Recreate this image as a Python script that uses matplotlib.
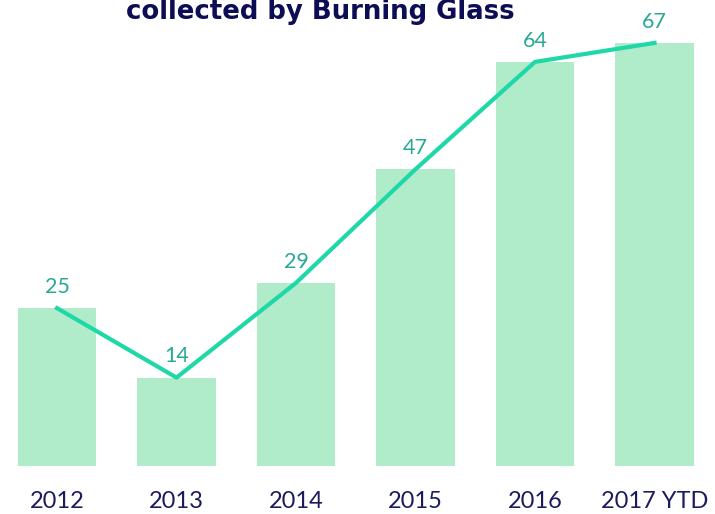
import numpy as np
import matplotlib
matplotlib.use("Agg")
import matplotlib.pyplot as plt

years = ["2012", "2013", "2014", "2015", "2016", "2017 YTD"]
counts = [25, 14, 29, 47, 64, 67]

plt.rcParams['font.family'] = ['Lato', 'DejaVu Sans']

fig = plt.figure(figsize=(7.15, 5.14), dpi=100)
ax = fig.add_axes([0, 48 / 514, 1, 466 / 514])

x = np.arange(len(years))
ax.bar(x, counts, width=0.66, color="#b0ecca", zorder=1)
ax.plot(x, counts, color="#1ed8a8", lw=3, zorder=2)

for xi, v in zip(x, counts):
    ax.annotate(str(v), (xi, v), xytext=(0, 8), textcoords="offset points",
                ha="center", va="bottom", fontsize=15.5, color="#2aa896")

ax.set_xlim(-0.477, 5.506)
ax.set_ylim(0, 73.8)
ax.set_xticks(x)
ax.set_xticklabels(years, fontsize=17, color="#1b1b5e")
ax.tick_params(axis="x", length=0, pad=18)
ax.set_yticks([])
for s in ax.spines.values():
    s.set_visible(False)

# title is cut off at the top in the original
fig.text(0.4476, 1 - 19 / 514, "collected by Burning Glass", ha="center",
         va="baseline", fontsize=18.7, fontweight="bold", color="#0d0d55",
         family="DejaVu Sans")

fig.savefig("out.png", dpi=100)
